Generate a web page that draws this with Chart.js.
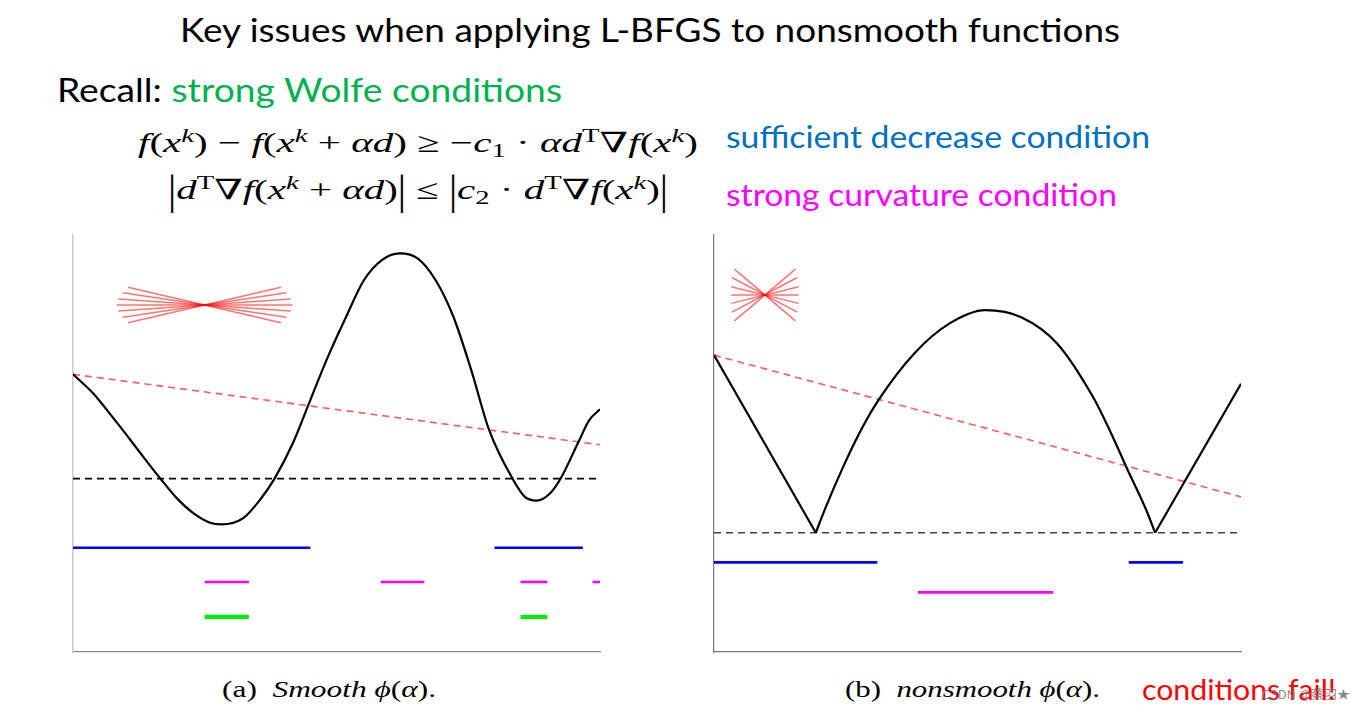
<!DOCTYPE html>
<html>
<head>
<meta charset="utf-8">
<script src="https://cdn.jsdelivr.net/npm/chart.js@4.4.1/dist/chart.umd.min.js"></script>
<style>
  html, body { margin: 0; padding: 0; background: #fff; }
  body { width: 1365px; height: 711px; position: relative; overflow: hidden; }
  .t { position: absolute; white-space: nowrap; line-height: 1; transform-origin: 0 0; }
  .sans { font-family: Lato, "Open Sans", sans-serif; }
  .serif { font-family: "Liberation Serif", "DejaVu Serif", serif; }
  .sup { font-size: 0.7em; vertical-align: 0.5em; line-height: 0; }
  .sub { font-size: 0.7em; vertical-align: -0.25em; line-height: 0; }
  .bar { display: inline-block; transform: scaleY(1.5); font-style: normal; }
  .box { position: absolute; }
</style>
</head>
<body>

<div class="t sans" data-w="940" style="left:180px;top:13px;font-size:33.5px;color:#000">Key issues when applying L-BFGS to nonsmooth functions</div>
<div class="t sans" data-w="505" style="left:57px;top:73px;font-size:33px;color:#000">Recall: <span style="color:#00b050">strong Wolfe conditions</span></div>

<div class="t serif" data-w="560" style="left:138px;top:129px;font-size:28px"><i>f</i>(<i>x</i><span class="sup"><i>k</i></span>) − <i>f</i>(<i>x</i><span class="sup"><i>k</i></span> + <i>αd</i>) ≥ −<i>c</i><span class="sub">1</span> · <i>αd</i><span class="sup">T</span>∇<i>f</i>(<i>x</i><span class="sup"><i>k</i></span>)</div>
<div class="t serif" data-w="500" style="left:168px;top:176px;font-size:28px"><span class="bar">|</span><i>d</i><span class="sup">T</span>∇<i>f</i>(<i>x</i><span class="sup"><i>k</i></span> + <i>αd</i>)<span class="bar">|</span> ≤ <span class="bar">|</span><i>c</i><span class="sub">2</span> · <i>d</i><span class="sup">T</span>∇<i>f</i>(<i>x</i><span class="sup"><i>k</i></span>)<span class="bar">|</span></div>

<div class="t sans" data-w="424" style="left:726px;top:121px;font-size:30px;color:#0070c0">sufficient decrease condition</div>
<div class="t sans" data-w="391" style="left:726px;top:179px;font-size:30px;color:#ff00ff">strong curvature condition</div>

<div class="box" style="left:63px;top:225px;width:547px;height:437px"><canvas id="smooth"></canvas></div>
<div class="box" style="left:704px;top:225px;width:547px;height:437px"><canvas id="nonsmooth"></canvas></div>

<div class="t serif" data-w="214" style="left:222px;top:677px;font-size:24px">(a)&nbsp; <i>Smooth</i> <i>ϕ</i>(<i>α</i>).</div>
<div class="t serif" data-w="255" style="left:845px;top:677px;font-size:24px">(b)&nbsp; <i>nonsmooth</i> <i>ϕ</i>(<i>α</i>).</div>
<div class="t sans" data-w="194" style="left:1142px;top:674px;font-size:29px;color:#ff0000">conditions fail!</div>
<div class="t" data-w="88" style="left:1262px;top:688px;font-size:12px;color:rgba(120,120,120,0.9);font-family:'Noto Sans CJK SC',sans-serif">CSDN @蔡羽★</div>

<script>
// ---- (a) smooth phi(alpha) ----
const leftAlpha = [0, 3.85, 7.02, 10.19, 13.34, 16.51, 19.68, 22.83, 26.0, 28.2, 32.3, 35.5, 38.3, 41.8, 44.65, 48.1,
  51.83, 55.22, 58.61, 62.0, 65.4, 68.79, 72.18, 75.57, 78.97, 83.38, 85.75, 87.99, 90.5, 92.53, 95.93, 97.96, 100];
const leftPhi = [66.6, 62.0, 57.1, 52.0, 46.8, 41.7, 36.9, 33.3, 31.0, 30.6, 32.1, 36.5, 41.7, 50.3, 59.2, 70.0,
  80.4, 89.2, 94.0, 95.6, 94.4, 89.2, 80.4, 67.6, 53.2, 41.6, 37.2, 36.3, 38.0, 41.6, 50.4, 55.6, 58.2];
const leftArmijo = [66.6, 49.7];     // red dashed line, value at alpha = 0 and alpha = 100
const leftLevel = 41.6;              // black dashed line
const leftBlue = [[0, 45.05], [79.98, 96.74]];
const leftMagenta = [[24.97, 33.38], [58.4, 66.68], [84.93, 90.02], [98.6, 100]];
const leftGreen = [[24.97, 33.38], [84.93, 90.02]];
const leftBarLevels = [25.0, 16.8, 8.4]; // blue, magenta, green
const leftFanA = [[10.44, 87.46], [9.43, 86.16], [8.61, 84.65], [8.27, 83.21], [8.61, 81.77], [9.43, 80.26], [10.44, 78.97]];
const leftFanB = [[39.47, 78.97], [40.49, 80.26], [41.31, 81.77], [41.65, 83.21], [41.31, 84.65], [40.49, 86.16], [39.47, 87.46]];

// ---- (b) nonsmooth phi(alpha) ----
const rightArm1X = [0, 19.32];
const rightArm1Y = [71.2, 28.6];
const rightArcX = [19.32, 21.0, 24.4, 27.8, 31.2, 38.0, 44.7, 51.5, 58.3, 65.1, 71.9, 75.3, 78.3, 82.0, 83.7];
const rightArcY = [28.6, 34.1, 44.1, 53.0, 60.4, 71.6, 78.8, 82.0, 80.3, 74.0, 61.2, 52.6, 44.2, 34.1, 28.6];
const rightArm2X = [83.7, 100];
const rightArm2Y = [28.6, 64.3];
const rightArmijo = [71.2, 37.2];
const rightLevel = 28.6;
const rightBlue = [[0, 31.0], [78.7, 89.0]];
const rightMagenta = [[38.7, 64.4]];
const rightBarLevels = [21.5, 14.3];
const rightFanA = [[3.87, 91.8], [3.40, 89.8], [3.26, 87.6], [3.26, 85.6], [3.26, 83.6], [3.40, 81.5], [3.87, 79.4]];
const rightFanB = [[15.46, 79.4], [15.8, 81.5], [16.07, 83.6], [16.07, 85.6], [16.07, 87.6], [15.8, 89.8], [15.46, 91.8]];

function line(xs, ys, color, width, extra) {
  return Object.assign({
    data: xs.map((x, i) => ({ x: x, y: ys[i] })),
    borderColor: color,
    borderWidth: width,
    pointRadius: 0,
    fill: false,
    tension: 0
  }, extra || {});
}

function segments(list, level, color, width) {
  return list.map(s => line(s, [level, level], color, width, { borderCapStyle: 'butt' }));
}

function fan(a, b) {
  return a.map((p, i) => line([p[0], b[i][0]], [p[1], b[i][1]], 'rgba(255,0,0,0.55)', 1.5));
}

function makeChart(id, datasets, xColor, yColor, yWidth) {
  new Chart(document.getElementById(id), {
    type: 'line',
    data: { datasets: datasets },
    options: {
      responsive: true,
      maintainAspectRatio: false,
      animation: false,
      layout: { padding: 10 },
      plugins: { legend: { display: false }, tooltip: { enabled: false } },
      scales: {
        x: {
          type: 'linear', min: 0, max: 100,
          ticks: { display: false },
          grid: { display: false, drawTicks: false },
          border: { color: xColor, width: 1.2 }
        },
        y: {
          type: 'linear', min: 0, max: 100,
          ticks: { display: false },
          grid: { display: false, drawTicks: false },
          border: { color: yColor, width: yWidth }
        }
      }
    }
  });
}

makeChart('smooth', [
  line(leftAlpha, leftPhi, '#000', 2.2, { cubicInterpolationMode: 'monotone' }),
  line([0, 100], leftArmijo, 'rgba(255,60,60,0.85)', 1.6, { borderDash: [7, 5] }),
  line([0, 100], [leftLevel, leftLevel], '#000', 1.8, { borderDash: [7, 5] }),
  ...segments(leftBlue, leftBarLevels[0], '#0000ff', 2.6),
  ...segments(leftMagenta, leftBarLevels[1], '#ff00ff', 2.6),
  ...segments(leftGreen, leftBarLevels[2], '#00ee00', 4.2),
  ...fan(leftFanA, leftFanB)
], '#8a8a8a', '#cccccc', 1.6);

makeChart('nonsmooth', [
  line(rightArm1X, rightArm1Y, '#000', 2.2),
  line(rightArcX, rightArcY, '#000', 2.2, { cubicInterpolationMode: 'monotone' }),
  line(rightArm2X, rightArm2Y, '#000', 2.2),
  line([0, 100], rightArmijo, 'rgba(255,60,60,0.85)', 1.6, { borderDash: [7, 5] }),
  line([0, 100], [rightLevel, rightLevel], '#444', 1.5, { borderDash: [7, 5] }),
  ...segments(rightBlue, rightBarLevels[0], '#0000ff', 2.6),
  ...segments(rightMagenta, rightBarLevels[1], '#ff00ff', 2.6),
  ...fan(rightFanA, rightFanB)
], '#777777', '#777777', 1.2);

// squeeze each text block to the width it has in the slide
document.querySelectorAll('.t[data-w]').forEach(el => {
  const w = el.getBoundingClientRect().width;
  el.style.transform = 'scaleX(' + (parseFloat(el.dataset.w) / w) + ')';
});
</script>
</body>
</html>
